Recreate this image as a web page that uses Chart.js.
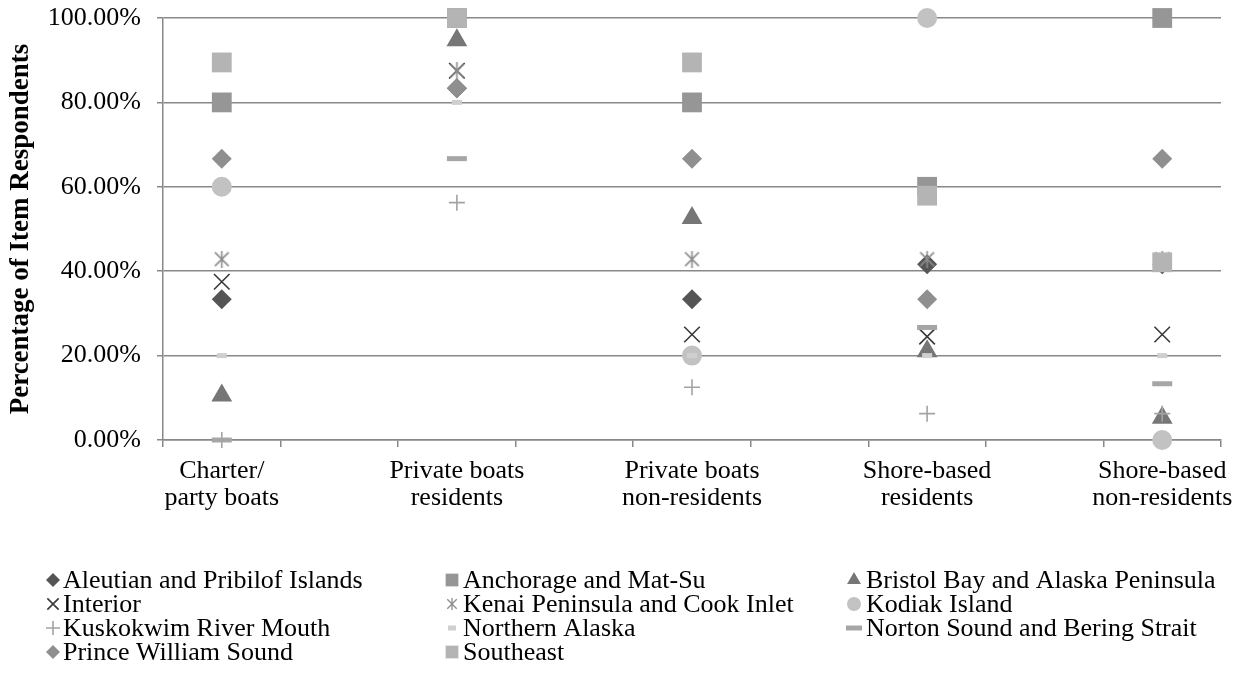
<!DOCTYPE html>
<html>
<head>
<meta charset="utf-8">
<script src="https://cdn.jsdelivr.net/npm/chart.js@4/dist/chart.umd.min.js"></script>
<style>
html,body{margin:0;padding:0;background:#fff;}
#wrap{width:1244px;height:679px;}
</style>
</head>
<body>
<div id="wrap"><canvas id="c" width="1244" height="679"></canvas></div>
<script>
// ---------- data ----------
const categories = [
  ['Charter/', 'party boats'],
  ['Private boats', 'residents'],
  ['Private boats', 'non-residents'],
  ['Shore-based', 'residents'],
  ['Shore-based', 'non-residents']
];
const seriesNames = [
  'Aleutian and Pribilof Islands',
  'Anchorage and Mat-Su',
  'Bristol Bay and Alaska Peninsula',
  'Interior',
  'Kenai Peninsula and Cook Inlet',
  'Kodiak Island',
  'Kuskokwim River Mouth',
  'Northern Alaska',
  'Norton Sound and Bering Strait',
  'Prince William Sound',
  'Southeast'
];
const aleutian   = [33.33, 83.33, 33.33, 41.67, 41.67];
const anchorage  = [80, 100, 80, 60, 100];
const bristol    = [10.53, 94.74, 52.63, 21.05, 5.26];
const interior   = [37.5, 87.5, 25, 24.5, 25];
const kenai      = [42.86, 87.5, 42.86, 42.86, 42.86];
const kodiak     = [60, null, 20, 100, 0];
const kuskokwim  = [0, 56.25, 12.5, 6.25, 6.25];
const northern   = [20, 80, 20, 20, 20];
const norton     = [0, 66.67, null, 26.67, 13.33];
const pws        = [66.67, 83.33, 66.67, 33.33, 66.67];
const southeast  = [89.47, 100, 89.47, 57.89, 42.11];
const yTicks     = [0, 20, 40, 60, 80, 100];

const seriesValues = [aleutian, anchorage, bristol, interior, kenai, kodiak, kuskokwim, northern, norton, pws, southeast];

// ---------- styles ----------
function asterisk(size, color, lw) {
  const cv = document.createElement('canvas');
  cv.width = size; cv.height = size;
  const g = cv.getContext('2d');
  g.strokeStyle = color; g.lineWidth = lw;
  const m = lw, s = size - lw;
  g.beginPath();
  g.moveTo(m, m); g.lineTo(s, s);
  g.moveTo(s, m); g.lineTo(m, s);
  g.moveTo(size / 2, 0); g.lineTo(size / 2, size);
  g.stroke();
  return cv;
}
const styles = [
  {c:'#555555', ps:'rectRot', r:10, bw:0, lr:7},
  {c:'#969696', ps:'rect', r:14, bw:0, lr:9},
  {c:'#767676', ps:'triangle', r:12, bw:0, lr:8},
  {c:'#3a3a3a', ps:'crossRot', r:11, bw:1.6, lr:8},
  {c:'#8c8c8c', ps:asterisk(17,'#8c8c8c',1.6), r:9, bw:1.6, lr:8, small:asterisk(12,'#8c8c8c',1.3)},
  {c:'#c2c2c2', ps:'circle', r:10, bw:0, lr:7},
  {c:'#a3a3a3', ps:'cross', r:8, bw:1.6, lr:7},
  {c:'#cfcfcf', ps:'line', r:5, bw:5, lr:4},
  {c:'#a6a6a6', ps:'line', r:10, bw:5, lr:8},
  {c:'#8f8f8f', ps:'rectRot', r:10, bw:0, lr:7},
  {c:'#b4b4b4', ps:'rect', r:14, bw:0, lr:9}
];

// 9 category slots: labelled categories with a blank slot between each
const slotLabels = [];
categories.forEach((c, i) => { slotLabels.push(c); if (i < categories.length - 1) slotLabels.push(''); });
function toSlots(arr) {
  const out = [];
  arr.forEach((v, i) => { out.push(v); if (i < arr.length - 1) out.push(null); });
  return out;
}

const N = seriesNames.length;
const datasets = seriesNames.map((name, i) => ({
  label: name,
  data: toSlots(seriesValues[i]),
  showLine: false,
  order: N - i,
  pointStyle: styles[i].ps,
  pointRadius: styles[i].r,
  pointHoverRadius: styles[i].r,
  pointBorderWidth: styles[i].bw,
  pointBackgroundColor: styles[i].c,
  pointBorderColor: styles[i].c,
  backgroundColor: styles[i].c,
  borderColor: styles[i].c,
  clip: false
}));

const FONT = "'Liberation Serif', 'Times New Roman', serif";
const FS = 26;

const legendPlugin = {
  id: 'gridLegend',
  afterDraw(chart) {
    const ctx = chart.ctx;
    const colMarker = [53, 452, 854];
    const colText = [63, 463, 866];
    const rowY = [580, 604, 628, 652];
    ctx.save();
    ctx.font = FS + "px " + FONT;
    ctx.textBaseline = 'middle';
    ctx.textAlign = 'left';
    seriesNames.forEach((name, i) => {
      const col = i % 3, row = Math.floor(i / 3);
      const st = styles[i];
      const x = colMarker[col], y = rowY[row];
      ctx.fillStyle = st.c; ctx.strokeStyle = st.c;
      ctx.lineWidth = st.bw;
      let ps = st.small ? st.small : st.ps;
      Chart.helpers.drawPoint(ctx, {pointStyle: ps, radius: st.lr, borderWidth: st.ps === 'line' ? 4 : st.bw, rotation: 0}, x, y);
      ctx.fillStyle = '#000';
      ctx.fillText(name, colText[col], y + 1);
    });
    ctx.restore();
  }
};

new Chart(document.getElementById('c'), {
  type: 'line',
  data: { labels: slotLabels, datasets },
  plugins: [legendPlugin],
  options: {
    responsive: false,
    animation: false,
    devicePixelRatio: 1,
    layout: { autoPadding: false, padding: { top: 18, right: 23, left: 0, bottom: 0 } },
    plugins: { legend: { display: false }, tooltip: { enabled: false } },
    scales: {
      x: {
        type: 'category',
        offset: true,
        afterFit(s) { s.height = 239; s.paddingLeft = 0; s.paddingRight = 0; },
        grid: { offset: true, drawOnChartArea: false, drawTicks: true, tickLength: 7, color: '#888888', lineWidth: 1.5 },
        border: { display: true, color: '#888888', width: 1.5 },
        ticks: { autoSkip: false, maxRotation: 0, minRotation: 0, padding: 11, color: '#000', font: { family: FONT, size: FS, lineHeight: 1.04 } }
      },
      y: {
        min: 0, max: 100,
        afterFit(s) { s.width = 163; s.paddingTop = 0; s.paddingBottom = 0; },
        afterBuildTicks(s) { s.ticks = yTicks.map(v => ({ value: v })); },
        grid: { color: '#888888', lineWidth: 1.5, drawTicks: true, tickLength: 6 },
        border: { display: true, color: '#888888', width: 1.5 },
        ticks: { padding: 16, color: '#000', font: { family: FONT, size: FS }, callback: v => v.toFixed(2) + '%' },
        title: { display: true, text: 'Percentage of Item Respondents', color: '#000', font: { family: FONT, size: 27, weight: 'bold' }, padding: { top: 5, bottom: 0 } }
      }
    }
  }
});
</script>
</body>
</html>
